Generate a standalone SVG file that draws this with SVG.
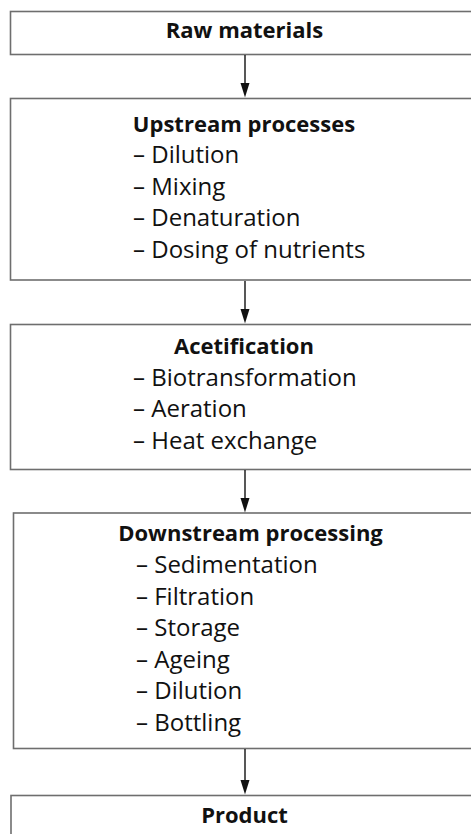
<svg xmlns="http://www.w3.org/2000/svg" width="471" height="834" viewBox="0 0 471 834">
<defs>
<style>
.box{fill:#fff;stroke:#6e6e6e;stroke-width:1.6}
.t{font-family:"Open Sans","Noto Sans",sans-serif;fill:#111}
.h{font-weight:bold;font-size:22px;text-anchor:middle}
.i{font-size:24px}
.c{stroke:#111;stroke-width:1.4;fill:none}
.ah{fill:#111}
</style>
</defs>
<g id="raw">
<rect class="box" x="10.5" y="11.5" width="480" height="43"/>
<text class="t h" x="244.5" y="37.5">Raw materials</text>
</g>
<g id="upstream">
<rect class="box" x="10.5" y="98.5" width="480" height="181.5"/>
<text class="t h" x="244" y="131.5">Upstream processes</text>
<text class="t i" x="133" y="163">– Dilution</text>
<text class="t i" x="133" y="194.5">– Mixing</text>
<text class="t i" x="133" y="226">– Denaturation</text>
<text class="t i" x="133" y="257.5">– Dosing of nutrients</text>
</g>
<g id="acetification">
<rect class="box" x="10.5" y="324.5" width="480" height="145"/>
<text class="t h" x="244" y="354">Acetification</text>
<text class="t i" x="133" y="385.5">– Biotransformation</text>
<text class="t i" x="133" y="417">– Aeration</text>
<text class="t i" x="133" y="448.5">– Heat exchange</text>
</g>
<g id="downstream">
<rect class="box" x="13.5" y="513" width="480" height="235.5"/>
<text class="t h" x="250.5" y="541">Downstream processing</text>
<text class="t i" x="136" y="573">– Sedimentation</text>
<text class="t i" x="136" y="604.5">– Filtration</text>
<text class="t i" x="136" y="636">– Storage</text>
<text class="t i" x="136" y="667.5">– Ageing</text>
<text class="t i" x="136" y="699">– Dilution</text>
<text class="t i" x="136" y="730.5">– Bottling</text>
</g>
<g id="product">
<rect class="box" x="11" y="795.5" width="480" height="60"/>
<text class="t h" x="244.5" y="823">Product</text>
</g>
<g id="connectors">
<line class="c" x1="245" y1="55" x2="245" y2="86"/>
<path class="ah" d="M240.5,83 L249.5,83 L245,97.5 Z"/>
<line class="c" x1="245" y1="281" x2="245" y2="312"/>
<path class="ah" d="M240.5,309 L249.5,309 L245,323.5 Z"/>
<line class="c" x1="245" y1="470" x2="245" y2="501"/>
<path class="ah" d="M240.5,498 L249.5,498 L245,512.5 Z"/>
<line class="c" x1="245" y1="749" x2="245" y2="783"/>
<path class="ah" d="M240.5,780 L249.5,780 L245,794.5 Z"/>
</g>
</svg>
